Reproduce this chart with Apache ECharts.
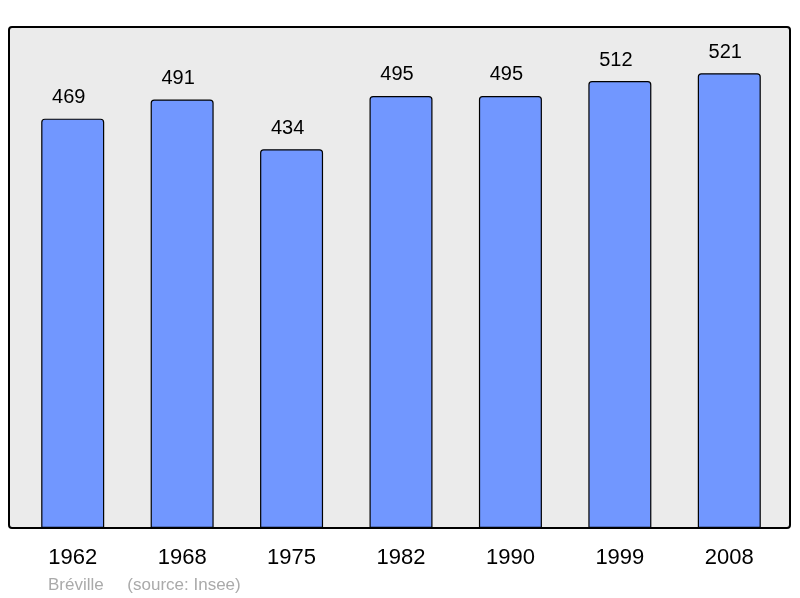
<!DOCTYPE html>
<html>
<head>
<meta charset="utf-8">
<script src="https://cdn.jsdelivr.net/npm/echarts@6/dist/echarts.min.js"></script>
<style>
  html, body { margin: 0; padding: 0; background: #fff; }
  #main { width: 800px; height: 598px; }
</style>
</head>
<body>
<div id="main"></div>
<script>
var years = ['1962', '1968', '1975', '1982', '1990', '1999', '2008'];
var population = [469, 491, 434, 495, 495, 512, 521];
var yMax = 574;

var myChart = echarts.init(document.getElementById('main'));

var option = {
  backgroundColor: '#ffffff',
  animation: false,
  textStyle: { fontFamily: 'Liberation Sans, Arial, sans-serif' },
  graphic: [
    {
      type: 'rect',
      z: 0,
      shape: { x: 9, y: 27, width: 781, height: 501, r: 3 },
      style: { fill: '#ebebeb', stroke: '#000', lineWidth: 2 }
    },
    {
      type: 'text',
      left: 48,
      top: 577,
      style: {
        text: 'Bréville     (source: Insee)',
        fill: '#aaaaaa',
        fontSize: 17,
        fontFamily: 'Liberation Sans, Arial, sans-serif'
      }
    }
  ],
  grid: { left: 18, right: 16, top: 27, bottom: 70 },
  xAxis: {
    type: 'category',
    data: years,
    axisLine: { show: false },
    axisTick: { show: false },
    axisLabel: { color: '#000', fontSize: 22, margin: 19 }
  },
  yAxis: {
    type: 'value',
    min: 0,
    max: yMax,
    show: false,
    splitLine: { show: false }
  },
  series: [
    {
      type: 'bar',
      z: 2,
      data: population,
      barWidth: 63,
      itemStyle: {
        color: '#7197ff',
        borderColor: '#000',
        borderWidth: 1.2,
        borderRadius: [3, 3, 0, 0]
      },
      label: {
        show: true,
        position: 'top',
        distance: 11,
        offset: [-4, 0],
        color: '#000',
        fontSize: 20
      }
    }
  ]
};

option && myChart.setOption(option);
</script>
</body>
</html>
